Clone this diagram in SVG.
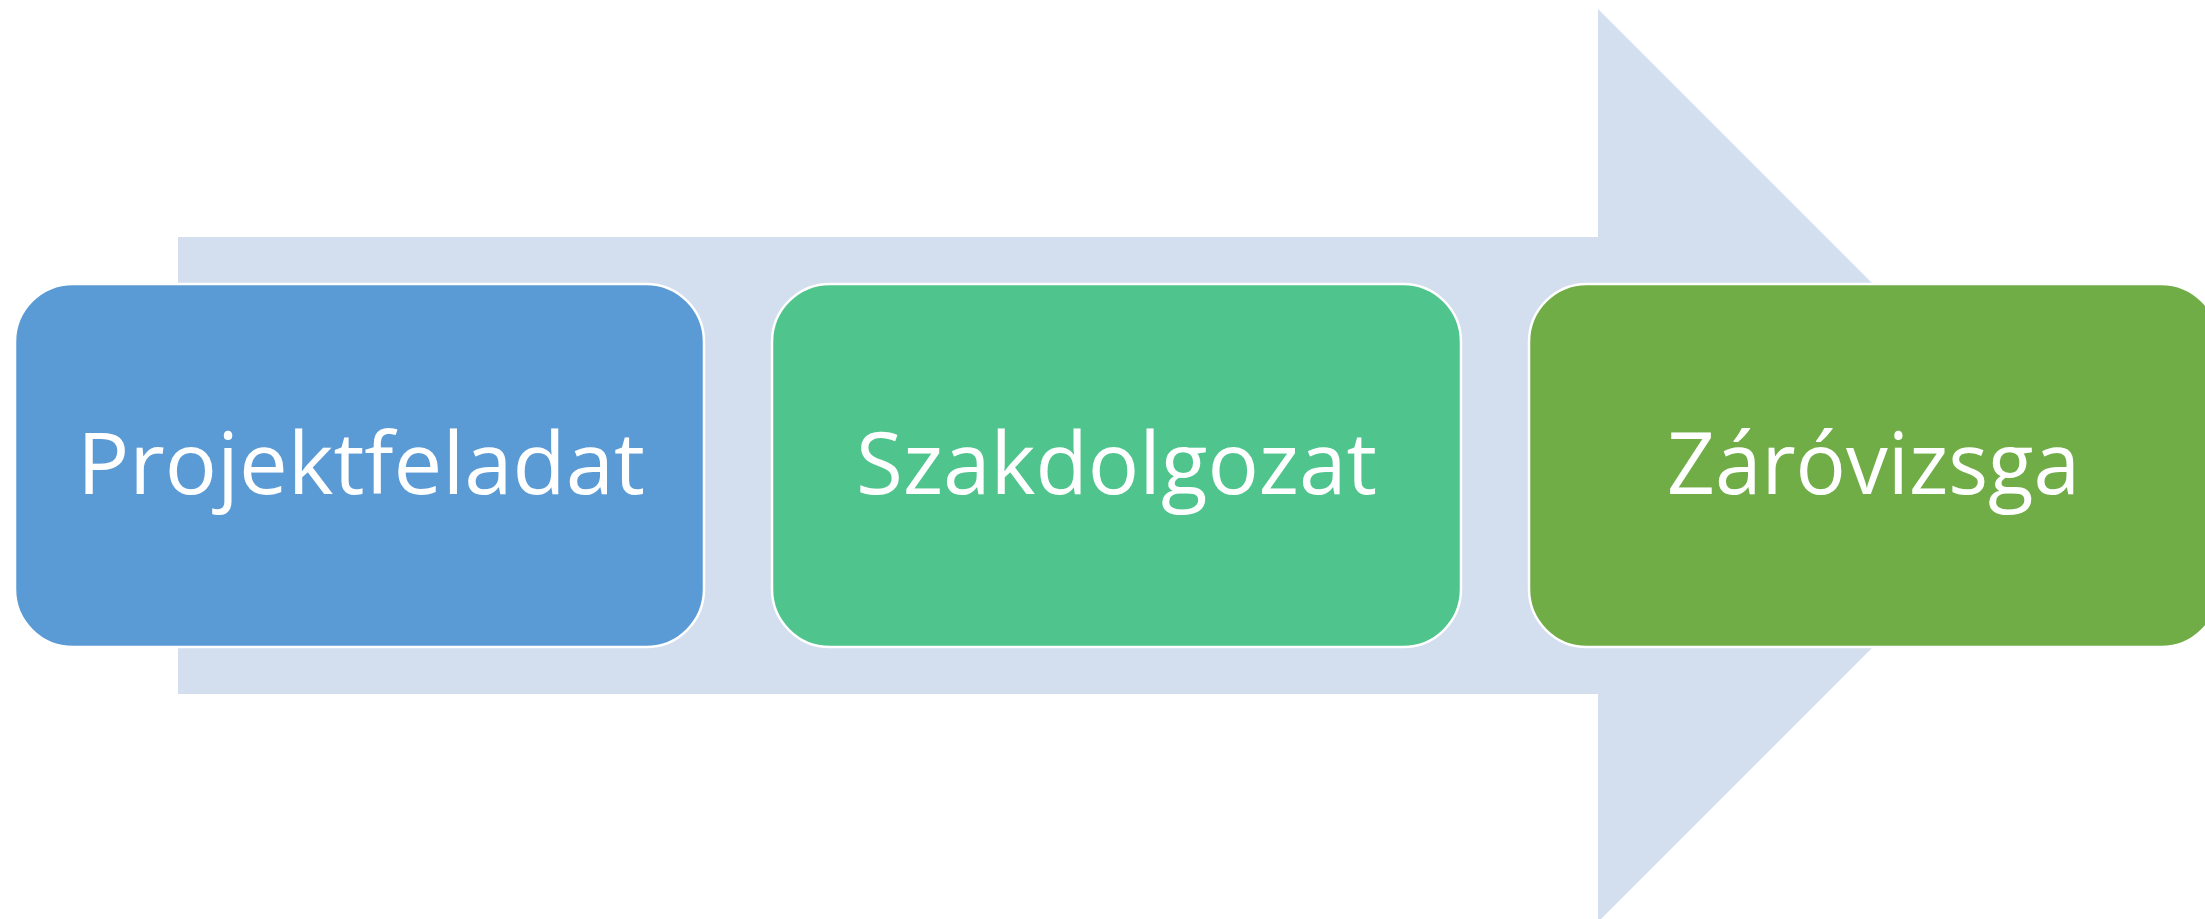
<svg xmlns="http://www.w3.org/2000/svg" width="2205" height="919" viewBox="0 0 2205 919">
  <style>
    .box { stroke: #FFFFFF; stroke-width: 2.5; }
    .lbl { font-family: "Open Sans", "Liberation Sans", sans-serif; font-size: 86px; fill: #FFFFFF; text-anchor: middle; }
  </style>
  <rect x="0" y="0" width="2205" height="919" fill="#FFFFFF"/>
  <g id="connectors">
    <polygon points="178,237 1598,237 1598,9 2054.5,465.5 1598,922 1598,694 178,694" fill="#D3DEEF"/>
  </g>
  <g id="node-projektfeladat">
    <rect class="box" x="15" y="284" width="689" height="363" rx="58" ry="58" fill="#5B9BD5"/>
    <text class="lbl" x="361" y="494" textLength="568" lengthAdjust="spacingAndGlyphs">Projektfeladat</text>
  </g>
  <g id="node-szakdolgozat">
    <rect class="box" x="772" y="284" width="689" height="363" rx="58" ry="58" fill="#4FC58D"/>
    <text class="lbl" x="1116.5" y="494" textLength="521" lengthAdjust="spacingAndGlyphs">Szakdolgozat</text>
  </g>
  <g id="node-zarovizsga">
    <rect class="box" x="1529" y="284" width="690" height="363" rx="58" ry="58" fill="#70AD47"/>
    <text class="lbl" x="1873.5" y="494" textLength="413" lengthAdjust="spacingAndGlyphs">Záróvizsga</text>
  </g>
</svg>
